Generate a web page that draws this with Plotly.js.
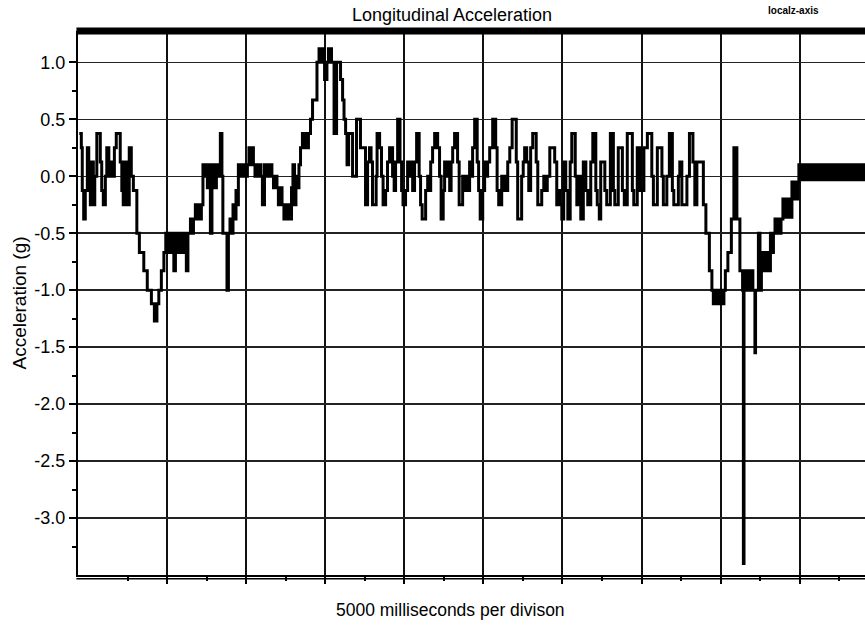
<!DOCTYPE html>
<html><head><meta charset="utf-8">
<script src="https://cdn.plot.ly/plotly-3.0.1.min.js"></script>
<style>html,body{margin:0;padding:0;background:#fff}</style>
</head><body>
<div id="chart" style="width:865px;height:629px"></div>
<script>
// Time (s) from the start of the record (5000 ms per division)
const timeSec = [
0.00,0.13,0.19,0.28,0.38,0.51,0.60,0.70,0.79,0.89,0.98,1.11,1.33,1.42,1.52,1.65,1.74,1.87,1.96,2.09,
2.22,2.34,2.59,2.69,2.78,2.88,2.97,3.07,3.16,3.29,3.42,3.64,3.80,4.08,4.30,4.56,4.75,4.91,5.03,5.19,
5.35,5.47,5.57,5.66,5.76,5.89,5.98,6.08,6.17,6.27,6.36,6.46,6.55,6.65,6.77,6.87,7.03,7.12,7.22,7.34,
7.44,7.53,7.63,7.72,7.82,7.91,8.01,8.10,8.16,8.29,8.39,8.48,8.58,8.67,8.77,8.92,9.02,9.08,9.34,9.43,
9.53,9.62,9.72,9.81,9.91,10.00,10.06,10.16,10.25,10.35,10.44,10.54,10.63,10.73,10.82,10.92,11.01,11.11,11.20,11.30,
11.39,11.49,11.58,11.71,11.80,11.90,11.99,12.09,12.18,12.28,12.41,12.50,12.59,12.72,12.82,12.94,13.04,13.13,13.23,13.32,
13.42,13.51,13.61,13.70,13.80,13.89,13.99,14.11,14.21,14.30,14.40,14.49,14.62,14.75,15.03,15.16,15.32,15.41,15.51,15.66,
15.76,15.95,16.11,16.27,16.52,16.65,16.74,16.84,16.93,17.03,17.28,17.53,17.78,18.10,18.23,18.35,18.45,18.54,18.77,18.83,
18.99,19.11,19.21,19.37,19.49,19.62,19.81,19.91,20.00,20.13,20.28,20.38,20.47,20.63,20.76,20.89,20.98,21.08,21.20,21.33,
21.49,21.58,21.68,21.90,22.03,22.12,22.22,22.34,22.47,22.66,22.78,22.88,23.01,23.10,23.23,23.32,23.42,23.51,23.61,23.73,
23.92,24.02,24.24,24.37,24.46,24.56,24.68,24.78,24.87,25.00,25.16,25.25,25.35,25.51,25.63,25.73,25.82,25.95,26.14,26.33,
26.42,26.52,26.71,26.80,26.90,26.99,27.09,27.22,27.37,27.63,27.72,27.97,28.07,28.16,28.29,28.42,28.54,28.67,28.89,28.99,
29.24,29.37,29.49,29.59,29.75,30.06,30.19,30.28,30.38,30.51,30.63,30.76,30.89,31.04,31.14,31.36,31.46,31.58,31.71,31.87,
32.03,32.15,32.34,32.47,32.66,32.75,32.88,32.97,33.23,33.35,33.58,33.77,33.86,34.08,34.34,34.46,34.65,34.97,35.06,35.28,
35.47,35.70,35.92,36.20,36.30,36.55,36.84,36.93,37.15,37.31,37.50,37.59,37.88,37.97,38.10,38.42,38.58,38.80,38.92,39.05,
39.46,39.62,39.84,40.00,40.09,40.19,40.28,40.38,40.47,40.57,40.66,40.76,40.85,41.01,41.23,41.39,41.58,41.77,41.94,41.99,
42.03,42.22,42.31,42.41,42.50,42.59,42.72,42.76,42.94,43.04,43.13,43.23,43.32,43.42,43.51,43.61,43.70,43.80,43.89,43.99,
44.08,44.18,44.27,44.37,44.49,44.59,44.68,44.78,44.87,44.97,45.06,45.16,45.25,45.35,45.44,
45.5,45.6,45.7,45.8,45.9,46.0,46.1,46.2,46.3,46.4,46.5,46.6,46.7,46.8,46.9,47.0,47.1,47.2,47.3,47.4,
47.5,47.6,47.7,47.8,47.9,48.0,48.1,48.2,48.3,48.4,48.5,48.6,48.7,48.8,48.9,49.0,49.1,49.2,49.3,49.4,
49.5,49.6,49.7
];
// Longitudinal acceleration (g), stepped readings
const accelG = [
0.375,0.25,-0.125,-0.375,-0.125,0.25,-0.125,-0.25,0.125,-0.25,0,0.375,0.125,-0.125,-0.25,0,0.25,0,0.125,0,
0.25,0.375,0.125,-0.125,-0.25,0.125,0,-0.25,0.25,0,-0.125,-0.5,-0.67,-0.83,-1.0,-1.12,-1.27,-1.12,-1.0,-0.83,
-0.67,-0.5,-0.67,-0.5,-0.67,-0.5,-0.83,-0.5,-0.67,-0.5,-0.67,-0.5,-0.67,-0.5,-0.83,-0.5,-0.375,-0.5,-0.375,-0.25,
-0.375,-0.25,-0.375,-0.25,0.1,0,0.1,-0.1,0.1,-0.5,-0.1,0.1,-0.1,0.1,0,0.375,0,-0.5,-1.0,-0.5,
-0.375,-0.5,-0.25,-0.375,-0.125,-0.25,0.1,0,0.1,0,0.1,0,0.1,0.25,0.1,0.25,0.1,0,0.1,0,
0.1,0,-0.25,0.1,0,0.1,0,0.1,0,-0.1,0,-0.1,-0.25,-0.1,-0.25,-0.375,-0.25,-0.375,-0.25,-0.375,
-0.1,0.1,-0.25,0,-0.1,0.1,0.25,0.375,0.25,0.375,0.25,0.375,0.5,0.67,1.0,1.12,1.0,1.12,0.85,1.0,
1.12,1.0,0.375,1.0,0.85,0.67,0.5,0.375,0.1,0.375,0,0.5,0.25,-0.25,0.125,0.25,0.125,-0.25,0,0.375,
0.25,0,-0.25,-0.125,0.125,0.25,0,-0.125,0.125,0.5,0.125,-0.125,-0.25,-0.125,0.125,0,0.125,-0.125,0.125,0.375,
0,-0.25,-0.375,-0.125,0,-0.125,0.125,0.25,0.375,0.25,0,-0.375,-0.125,0.125,0,0.125,-0.125,0.125,0.25,0.375,
0.125,-0.25,0,-0.125,0,-0.125,0.125,0,0.25,0.5,0.125,-0.125,-0.375,-0.125,0.125,0,0.125,0.25,0.5,0.25,
-0.125,-0.25,0,-0.125,0,-0.125,0.125,0.25,0.5,0.125,-0.375,0,0.125,0.25,0.125,-0.125,0.25,0.375,0.125,-0.25,
-0.125,0,-0.125,0,0.25,0.125,-0.25,-0.125,-0.25,-0.375,0.125,-0.125,-0.375,0.125,0.375,0,-0.25,0,-0.375,0.125,
-0.125,-0.25,0.125,0.375,-0.125,-0.25,-0.375,0.125,-0.125,-0.25,0.375,-0.125,-0.25,0.25,-0.125,-0.25,0.375,-0.125,-0.25,0.25,
-0.125,0.25,0.375,0,-0.25,0.25,0,-0.25,0,0.375,-0.125,-0.25,0,0.125,-0.25,0,0.375,0.125,-0.25,0.125,
-0.25,-0.5,-0.83,-1.0,-1.12,-1.0,-1.12,-1.0,-1.12,-1.0,-1.12,-1.0,-0.83,-0.67,-0.375,0.25,-0.375,-0.83,-1.0,-3.4,
-0.83,-1.0,-0.83,-1.0,-0.83,-1.0,-1.55,-1.0,-0.5,-1.0,-0.67,-0.83,-0.67,-0.83,-0.67,-0.83,-0.5,-0.67,-0.5,-0.375,
-0.5,-0.375,-0.5,-0.375,-0.2,-0.36,-0.2,-0.36,-0.2,-0.36,-0.05,-0.2,-0.05,-0.2,-0.05,
0.1,-0.03,0.1,-0.03,0.1,-0.03,0.1,-0.03,0.1,-0.03,0.1,-0.03,0.1,-0.03,0.1,-0.03,0.1,-0.03,0.1,-0.03,
0.1,-0.03,0.1,-0.03,0.1,-0.03,0.1,-0.03,0.1,-0.03,0.1,-0.03,0.1,-0.03,0.1,-0.03,0.1,-0.03,0.1,-0.03,
0.1,-0.03,0.1
];
// Axis ticks
const xGridVals = [5.55,10.55,15.55,20.55,25.55,30.55,35.55,40.55,45.55];
const xMinorVals = [3.05,8.05,13.05,18.05,23.05,28.05,33.05,38.05,43.05,48.05];
const yTickVals = [1.0,0.5,0,-0.5,-1.0,-1.5,-2.0,-2.5,-3.0];
const yTickText = ["1.0","0.5","0.0","-0.5","-1.0","-1.5","-2.0","-2.5","-3.0"];
const yMinorVals = [0.75,0.25,-0.25,-0.75,-1.25,-1.75,-2.25,-2.75,-3.25];

const FONT = 'Liberation Sans, Arial, Helvetica, sans-serif';

const trace = {
  x: timeSec, y: accelG, type: 'scatter', mode: 'lines',
  name: 'localz-axis',
  line: {shape: 'hv', color: '#000', width: 3},
  hoverinfo: 'x+y'
};

const layout = {
  width: 865, height: 629,
  margin: {l: 78, r: 0, t: 31, b: 54, pad: 0},
  paper_bgcolor: '#fff', plot_bgcolor: '#fff',
  showlegend: false,
  font: {family: FONT, color: '#000', size: 18},
  title: {text: 'Longitudinal Acceleration', x: 0.5225, xref: 'container', xanchor: 'center',
          y: 0.977, yref: 'container', yanchor: 'middle', font: {family: FONT, size: 18, color: '#000'}},
  xaxis: {
    range: [-0.08, 49.68], autorange: false,
    tickmode: 'array', tickvals: xGridVals, showticklabels: false,
    ticks: 'outside', ticklen: 7, tickwidth: 2, tickcolor: '#000',
    minor: {tickmode: 'array', tickvals: xMinorVals, ticks: 'outside', ticklen: 4, tickwidth: 2, tickcolor: '#000', showgrid: false},
    showgrid: true, gridcolor: '#111', gridwidth: 2,
    showline: true, linecolor: '#000', linewidth: 2,
    zeroline: false, fixedrange: true
  },
  yaxis: {
    range: [-3.5, 1.275], autorange: false,
    tickmode: 'array', tickvals: yTickVals, ticktext: yTickText,
    tickfont: {family: FONT, size: 18, color: '#000'},
    ticks: 'outside', ticklen: 7, tickwidth: 2, tickcolor: '#000',
    minor: {tickmode: 'array', tickvals: yMinorVals, ticks: 'outside', ticklen: 4, tickwidth: 2, tickcolor: '#000', showgrid: false},
    showgrid: true, gridcolor: '#222', gridwidth: 1.5,
    showline: true, linecolor: '#000', linewidth: 2,
    zeroline: false, fixedrange: true,
    title: {text: 'Acceleration (g)', font: {family: FONT, size: 19, color: '#000'}, standoff: 3}
  },
  shapes: [
    {type: 'line', xref: 'paper', yref: 'paper', x0: -0.002, x1: 1, y0: 1, y1: 1,
     line: {color: '#000', width: 7}},
    {type: 'line', xref: 'paper', yref: 'paper', x0: -0.002, x1: 1, y0: -0.0068, y1: -0.0068,
     line: {color: '#000', width: 1.5}}
  ],
  annotations: [
    {text: '5000 milliseconds per divison', xref: 'paper', yref: 'paper', x: 0.4727, y: -0.0643,
     xanchor: 'center', yanchor: 'middle', showarrow: false, font: {family: FONT, size: 17.5, color: '#000'}},
    {text: '<b>localz-axis</b>', xref: 'paper', yref: 'paper', x: 0.9092, y: 1.0386,
     xanchor: 'center', yanchor: 'middle', showarrow: false, font: {family: FONT, size: 10, color: '#000'}}
  ]
};

Plotly.newPlot('chart', [trace], layout, {displayModeBar: false, staticPlot: true});
</script>
</body></html>
